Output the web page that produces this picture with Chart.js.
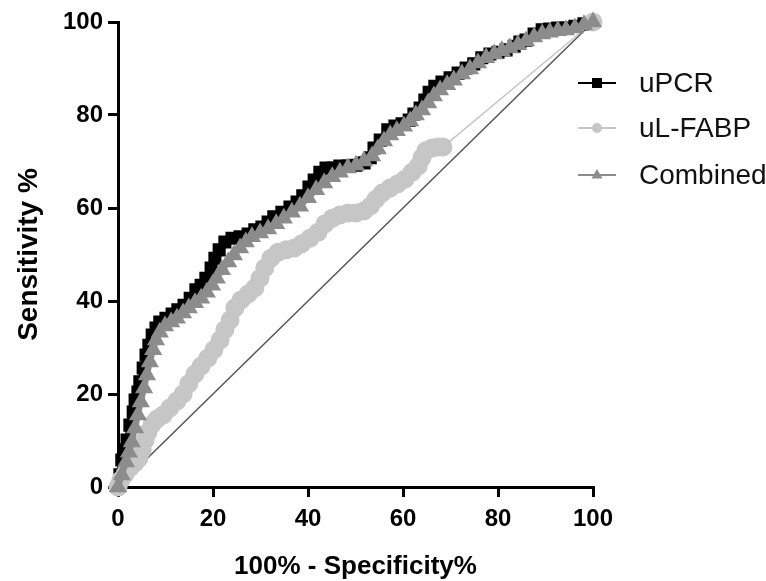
<!DOCTYPE html>
<html>
<head>
<meta charset="utf-8">
<title>ROC curves</title>
<script src="https://cdn.jsdelivr.net/npm/chart.js@4.4.1/dist/chart.umd.min.js"></script>
<style>
  html, body { margin: 0; padding: 0; background: #fff; }
  #roc { display: block; }
</style>
</head>
<body>
<canvas id="roc" width="766" height="581"></canvas>
<script>
// 100% - specificity (x) and sensitivity (y)
const upcrX = [0, 0.4, 0.8, 1.3, 1.9, 2.5, 3.2, 3.6, 4.2, 4.6, 5.3, 5.9, 6.5, 7.2, 8.0, 8.8, 10.1, 11.4, 12.6, 13.9,
  15.2, 16.4, 17.5, 18.5, 19.6, 20.4, 21.3, 22.5, 24.0, 25.7, 27.4, 28.8, 30.3, 31.6, 32.8, 34.5, 36.2, 37.7, 38.9, 40.2,
  41.3, 42.5, 43.8, 45.3, 46.7, 48.4, 50.1, 51.8, 53.1, 53.9, 55.2, 56.8, 58.3, 59.8, 61.3, 62.3, 63.6, 64.6, 65.5, 66.7,
  68.2, 69.9, 71.6, 73.3, 74.9, 76.6, 78.3, 80.0, 81.7, 83.4, 84.6, 85.9, 87.6, 89.3, 90.9, 92.6, 94.3, 96.2, 98.1, 100];
const upcrY = [0, 2.6, 5.8, 8.0, 10.1, 13.3, 16.1, 18.7, 20.4, 22.6, 25.6, 28.4, 30.5, 32.7, 34.2, 35.5, 36.3, 37.2, 38.1, 39.1,
  40.6, 42.4, 43.4, 44.9, 47.1, 49.2, 51.0, 52.7, 53.5, 53.8, 54.4, 55.3, 55.9, 57.0, 58.1, 59.1, 60.2, 61.3, 62.6, 64.5,
  66.0, 67.7, 68.6, 68.6, 69.0, 69.0, 69.2, 69.7, 70.8, 72.9, 74.6, 76.8, 77.6, 78.1, 78.9, 80.2, 81.5, 83.2, 84.9, 86.2,
  87.1, 88.0, 89.0, 90.1, 91.0, 92.3, 93.1, 93.5, 94.0, 94.8, 95.7, 96.1, 97.4, 98.3, 98.5, 98.7, 98.7, 99.1, 99.6, 100];

const fabpX = [0, 0.6, 1.5, 2.5, 3.6, 4.4, 5.1, 5.7, 6.3, 7.2, 8.2, 9.5, 10.9, 12.4, 13.7, 14.9, 16.2, 17.5, 18.9, 20.2,
  21.5, 22.5, 23.6, 24.6, 25.9, 27.4, 28.8, 29.9, 30.9, 32.2, 33.7, 35.4, 37.1, 38.7, 40.4, 42.1, 43.6, 45.1, 46.7, 48.4,
  50.1, 51.8, 53.1, 54.3, 55.6, 57.3, 58.9, 60.4, 61.9, 63.2, 64.0, 64.8, 66.1, 67.4, 68.4, 100];
const fabpY = [0, 1.5, 2.8, 4.1, 5.2, 6.2, 8.0, 10.1, 11.8, 13.5, 14.6, 15.5, 17.0, 18.5, 20.0, 22.2, 24.3, 26.0, 27.7, 29.5,
  31.6, 33.8, 35.9, 38.5, 40.2, 41.5, 42.8, 44.9, 47.1, 49.2, 50.5, 51.0, 51.4, 52.3, 53.5, 54.8, 56.6, 57.8, 58.5, 58.9,
  58.9, 59.4, 60.4, 61.9, 63.2, 64.3, 65.2, 66.2, 67.7, 69.0, 70.8, 72.3, 72.9, 73.1, 73.1, 100];

const combX = [0, 0.8, 1.7, 2.3, 2.9, 3.6, 4.2, 4.8, 5.5, 6.1, 6.7, 7.4, 8.0, 8.8, 9.9, 11.2, 12.4, 13.7, 14.9, 16.2,
  17.5, 18.7, 19.8, 20.8, 21.9, 23.2, 24.4, 25.7, 26.9, 28.2, 29.9, 31.6, 33.3, 34.9, 36.6, 38.3, 40.0, 41.7, 43.4, 45.1,
  46.7, 48.4, 50.1, 51.8, 53.5, 54.7, 56.0, 57.3, 58.7, 60.2, 61.5, 62.7, 64.0, 65.3, 66.5, 67.8, 69.3, 70.7, 72.4, 74.1,
  75.8, 77.5, 79.2, 80.8, 82.5, 84.2, 85.9, 87.6, 89.3, 90.9, 92.6, 94.3, 96.2, 98.1, 100];
const combY = [0, 2.6, 5.4, 7.5, 9.7, 12.7, 15.5, 18.3, 21.3, 24.1, 26.9, 29.5, 31.6, 33.3, 34.6, 35.5, 36.3, 37.4, 38.5, 39.6,
  40.6, 41.9, 43.4, 44.9, 46.7, 48.4, 49.9, 51.4, 52.7, 53.8, 54.6, 55.5, 56.6, 57.8, 59.1, 60.4, 62.2, 63.9, 65.4, 66.7,
  67.7, 68.6, 69.2, 70.1, 71.2, 72.7, 74.4, 75.7, 76.6, 77.6, 78.7, 80.0, 81.1, 82.6, 84.1, 85.4, 86.5, 87.5, 88.8, 89.9,
  91.2, 92.3, 93.1, 93.8, 94.4, 95.1, 95.9, 96.8, 97.4, 97.8, 98.1, 98.3, 98.7, 99.4, 100];

const chanceX = [0, 100];
const chanceY = [0, 100];

const seriesNames = ['uPCR', 'uL-FABP', 'Combined'];
const axisTicks = [0, 20, 40, 60, 80, 100];

const FONT = '"Liberation Sans", Arial, sans-serif';
const pts = (xs, ys) => xs.map((x, i) => ({ x: x, y: ys[i] }));

// legend drawn by hand: line + marker + label, like the original figure
const rocLegend = {
  id: 'rocLegend',
  afterDraw(chart) {
    const ctx = chart.ctx;
    const rows = [83, 128, 175];
    ctx.save();
    chart.data.datasets.forEach(ds => {
      const i = seriesNames.indexOf(ds.label);
      if (i < 0) return;
      const y = rows[i];
      ctx.strokeStyle = ds.pointBorderColor;
      ctx.lineWidth = 2;
      ctx.beginPath();
      ctx.moveTo(578, y);
      ctx.lineTo(616, y);
      ctx.stroke();

      ctx.fillStyle = ds.pointBackgroundColor;
      ctx.beginPath();
      if (ds.pointStyle === 'rect') {
        ctx.rect(597 - 5, y - 5, 10, 10);
      } else if (ds.pointStyle === 'circle') {
        ctx.arc(597, y, 5, 0, Math.PI * 2);
      } else {
        ctx.moveTo(597, y - 6);
        ctx.lineTo(602.5, y + 3.5);
        ctx.lineTo(591.5, y + 3.5);
        ctx.closePath();
      }
      ctx.fill();

      ctx.fillStyle = '#111';
      ctx.font = '28px ' + FONT;
      ctx.textAlign = 'left';
      ctx.textBaseline = 'middle';
      ctx.fillText(ds.label, 639, y + 1);
    });
    ctx.restore();
  }
};

// the uL-FABP curve ends in one long thin segment up to (100, 100)
const lastSeg = (count, thick, thin) => c => (c.p1DataIndex === count - 1 ? thin : thick);

new Chart(document.getElementById('roc').getContext('2d'), {
  type: 'scatter',
  data: {
    datasets: [
      {
        label: seriesNames[2],
        data: pts(combX, combY),
        showLine: true,
        borderColor: '#8c8c8c',
        backgroundColor: '#8c8c8c',
        pointBackgroundColor: '#8c8c8c',
        pointBorderColor: '#8c8c8c',
        pointStyle: 'triangle',
        pointRadius: 4.5,
        borderWidth: 6,
        borderJoinStyle: 'round',
        borderCapStyle: 'round',
        clip: false,
        order: 1
      },
      {
        label: seriesNames[1],
        data: pts(fabpX, fabpY),
        showLine: true,
        borderColor: '#c6c6c6',
        backgroundColor: '#c6c6c6',
        pointBackgroundColor: '#c6c6c6',
        pointBorderColor: '#c6c6c6',
        pointStyle: 'circle',
        pointRadius: 5,
        borderWidth: 9,
        borderJoinStyle: 'round',
        borderCapStyle: 'round',
        segment: { borderWidth: lastSeg(fabpX.length, 9, 1.5) },
        clip: false,
        order: 2
      },
      {
        label: seriesNames[0],
        data: pts(upcrX, upcrY),
        showLine: true,
        borderColor: '#000',
        backgroundColor: '#000',
        pointBackgroundColor: '#000',
        pointBorderColor: '#000',
        pointStyle: 'rect',
        pointRadius: 5,
        borderWidth: 6,
        borderJoinStyle: 'miter',
        clip: false,
        order: 3
      },
      {
        label: 'chance',
        data: pts(chanceX, chanceY),
        showLine: true,
        borderColor: '#555',
        borderWidth: 1.5,
        pointRadius: 0,
        clip: false,
        order: 4
      }
    ]
  },
  options: {
    responsive: false,
    animation: false,
    events: [],
    layout: { padding: { top: 22, right: 173, bottom: 0, left: 0 } },
    plugins: {
      legend: { display: false },
      tooltip: { enabled: false }
    },
    scales: {
      x: {
        type: 'linear',
        min: 0,
        max: 100,
        afterFit: s => { s.height = 94; },
        afterBuildTicks: s => { s.ticks = axisTicks.map(v => ({ value: v })); },
        border: { color: '#000', width: 3 },
        grid: { drawOnChartArea: false, color: '#000', lineWidth: 3, tickLength: 10 },
        ticks: { color: '#000', padding: 8, font: { family: FONT, size: 24, weight: 'bold' } },
        title: {
          display: true,
          text: '100% - Specificity%',
          color: '#000',
          padding: 0,
          font: { family: FONT, size: 26, weight: 'bold', lineHeight: 1.1 }
        }
      },
      y: {
        type: 'linear',
        min: 0,
        max: 100,
        afterFit: s => { s.width = 118; },
        afterBuildTicks: s => { s.ticks = axisTicks.map(v => ({ value: v })); },
        border: { color: '#000', width: 3 },
        grid: { drawOnChartArea: false, color: '#000', lineWidth: 3, tickLength: 10 },
        ticks: { color: '#000', padding: 5, font: { family: FONT, size: 24, weight: 'bold' } },
        title: {
          display: true,
          text: 'Sensitivity %',
          color: '#000',
          padding: { top: 14, bottom: 0 },
          font: { family: FONT, size: 28, weight: 'bold', lineHeight: 1.1 }
        }
      }
    }
  },
  plugins: [rocLegend]
});
</script>
</body>
</html>
